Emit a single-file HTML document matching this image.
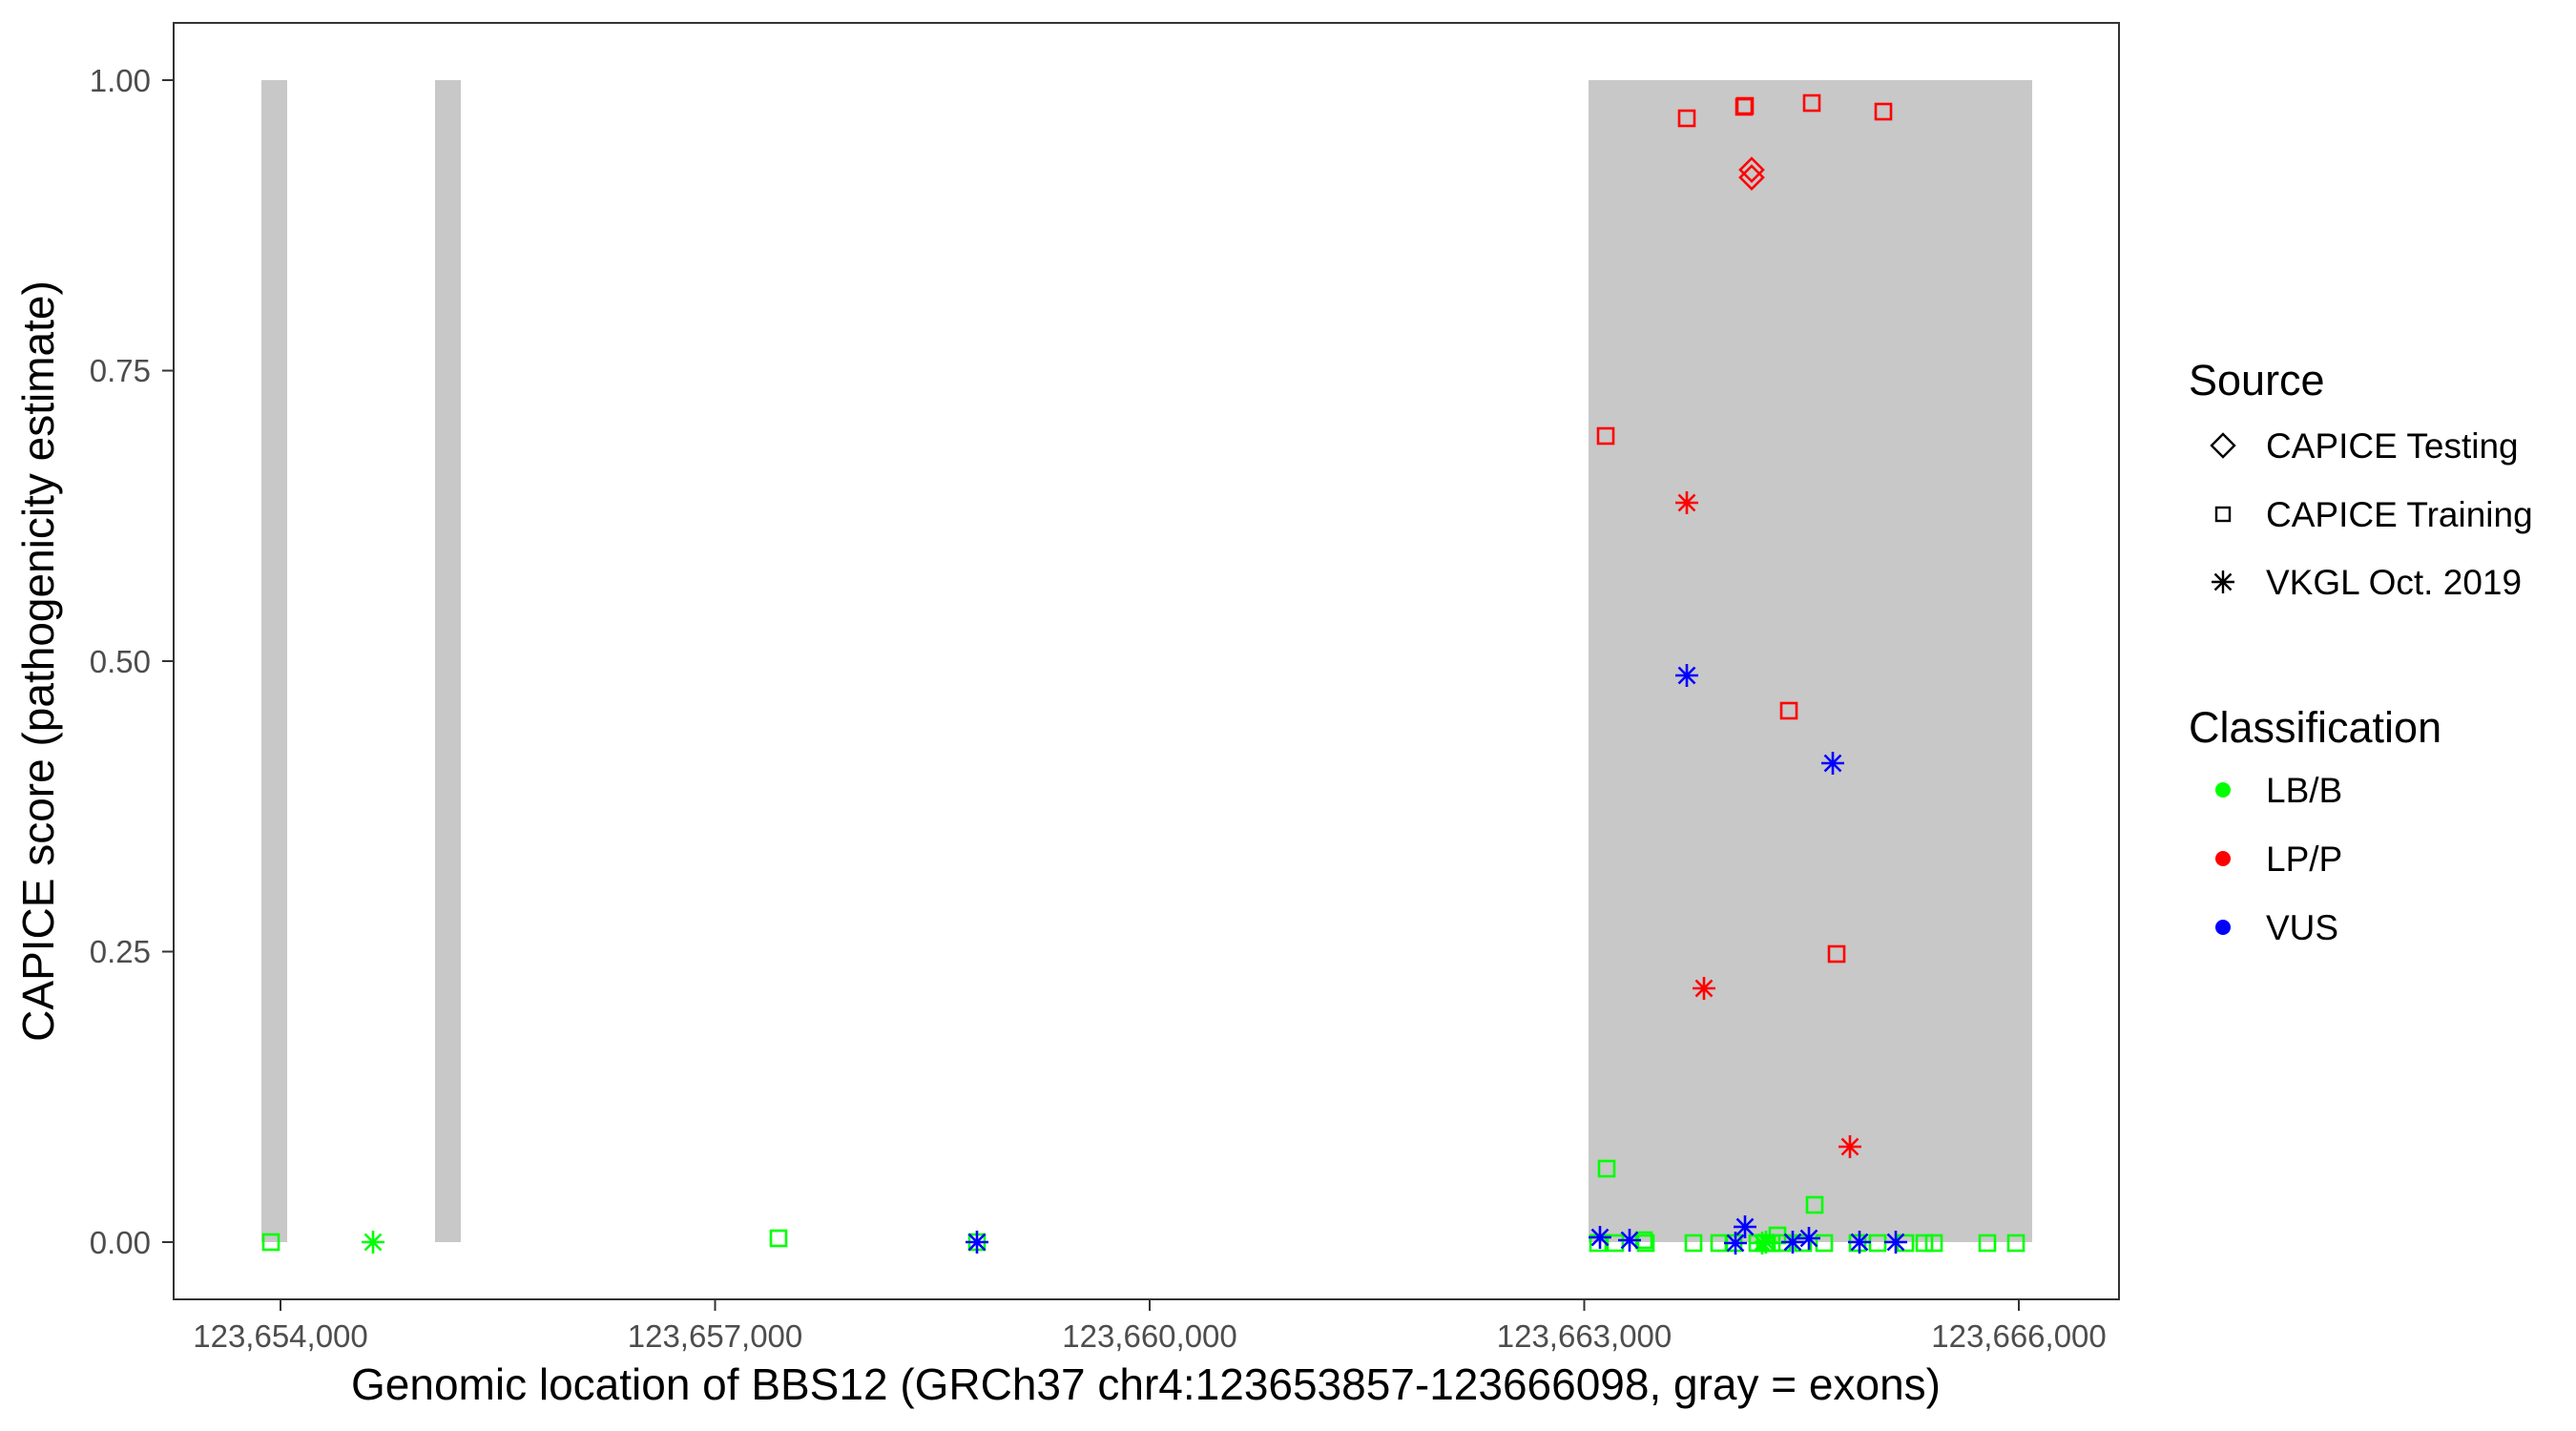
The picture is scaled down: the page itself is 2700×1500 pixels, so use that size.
<!DOCTYPE html>
<html><head><meta charset="utf-8"><style>body{margin:0;background:#fff}svg{display:block}text{font-family:"Liberation Sans",sans-serif}</style></head><body>
<svg width="2700" height="1500" xmlns="http://www.w3.org/2000/svg">
<defs>
<g id="sq"><rect x="-8" y="-8" width="16" height="16" fill="none" stroke-width="2.6"/></g>
<g id="as"><path d="M-12 0H12M0 -12V12M-8.5 -8.5L8.5 8.5M-8.5 8.5L8.5 -8.5" fill="none" stroke-width="2.6"/></g>
<g id="di"><path d="M0 -12L12 0L0 12L-12 0Z" fill="none" stroke-width="2.6"/></g>
</defs>
<rect x="274" y="84" width="27" height="1218" fill="#c8c8c8"/>
<rect x="456" y="84" width="27" height="1218" fill="#c8c8c8"/>
<rect x="1665" y="84" width="465" height="1218" fill="#c8c8c8"/>
<g stroke="#00ff00">
<use href="#sq" x="284" y="1302"/><use href="#as" x="391" y="1302"/>
<use href="#sq" x="816" y="1298"/><use href="#sq" x="1024" y="1302"/>
<use href="#sq" x="1684" y="1225"/><use href="#sq" x="1902" y="1263"/>
<use href="#sq" x="1675" y="1303"/><use href="#sq" x="1693" y="1303"/><use href="#sq" x="1723" y="1300"/><use href="#sq" x="1725" y="1303"/><use href="#sq" x="1775" y="1303"/><use href="#sq" x="1802" y="1303"/><use href="#sq" x="1817" y="1303"/><use href="#sq" x="1842" y="1303"/><use href="#sq" x="1850" y="1303"/><use href="#sq" x="1857" y="1303"/><use href="#sq" x="1863" y="1295"/><use href="#sq" x="1868" y="1303"/><use href="#sq" x="1890" y="1303"/><use href="#sq" x="1912" y="1303"/><use href="#sq" x="1947" y="1303"/><use href="#sq" x="1968" y="1303"/><use href="#sq" x="1997" y="1303"/><use href="#sq" x="2017" y="1303"/><use href="#sq" x="2027" y="1303"/><use href="#sq" x="2083" y="1303"/><use href="#sq" x="2113" y="1303"/>
<use href="#as" x="1847" y="1303"/><use href="#as" x="1851" y="1302"/>
</g>
<g stroke="#ff0000">
<use href="#sq" x="1768" y="124"/><use href="#sq" x="1829" y="111"/><use href="#sq" x="1828" y="112"/><use href="#sq" x="1899" y="108"/><use href="#sq" x="1974" y="117"/><use href="#sq" x="1683" y="457"/><use href="#sq" x="1875" y="745"/><use href="#sq" x="1925" y="1000"/>
<use href="#di" x="1836" y="178"/><use href="#di" x="1836" y="186"/>
<use href="#as" x="1768" y="527"/><use href="#as" x="1786" y="1036"/><use href="#as" x="1939" y="1202"/>
</g>
<g stroke="#0000ff">
<use href="#as" x="1024" y="1302"/>
<use href="#as" x="1768" y="708"/><use href="#as" x="1921" y="800"/>
<use href="#as" x="1677" y="1297"/><use href="#as" x="1708" y="1300"/><use href="#as" x="1829" y="1286"/><use href="#as" x="1819" y="1303"/><use href="#as" x="1879" y="1302"/><use href="#as" x="1896" y="1298"/><use href="#as" x="1949" y="1302"/><use href="#as" x="1987" y="1302"/>
</g>
<rect x="182" y="24" width="2039" height="1338" fill="none" stroke="#333" stroke-width="2"/>
<g stroke="#333" stroke-width="2">
<path d="M170 84H182M170 388.5H182M170 693H182M170 997.5H182M170 1302H182"/>
<path d="M294 1362V1374M749.5 1362V1374M1205 1362V1374M1660.5 1362V1374M2116 1362V1374"/>
</g>
<g fill="#4d4d4d" font-size="33" text-anchor="end">
<text x="158" y="96">1.00</text><text x="158" y="400">0.75</text><text x="158" y="705">0.50</text><text x="158" y="1009">0.25</text><text x="158" y="1314">0.00</text>
</g>
<g fill="#4d4d4d" font-size="33" text-anchor="middle">
<text x="294" y="1412">123,654,000</text><text x="749.5" y="1412">123,657,000</text><text x="1205" y="1412">123,660,000</text><text x="1660.5" y="1412">123,663,000</text><text x="2116" y="1412">123,666,000</text>
</g>
<text x="1201" y="1467" font-size="46" text-anchor="middle">Genomic location of BBS12 (GRCh37 chr4:123653857-123666098, gray = exons)</text>
<text transform="translate(56,693) rotate(-90)" font-size="46" text-anchor="middle">CAPICE score (pathogenicity estimate)</text>
<text x="2294" y="414" font-size="45">Source</text>
<path d="M2330 455L2342 467L2330 479L2318 467Z" fill="none" stroke="#000" stroke-width="2.4"/>
<rect x="2323" y="532" width="14" height="14" fill="none" stroke="#000" stroke-width="2.4"/>
<path d="M2318 610H2342M2330 598V622M2321.5 601.5L2338.5 618.5M2321.5 618.5L2338.5 601.5" stroke="#000" stroke-width="2.4"/>
<g font-size="37"><text x="2375" y="480">CAPICE Testing</text><text x="2375" y="552">CAPICE Training</text><text x="2375" y="623">VKGL Oct. 2019</text></g>
<text x="2294" y="778" font-size="45">Classification</text>
<circle cx="2330" cy="828" r="8" fill="#00ff00"/><circle cx="2330" cy="900" r="8" fill="#ff0000"/><circle cx="2330" cy="972" r="8" fill="#0000ff"/>
<g font-size="37"><text x="2375" y="841">LB/B</text><text x="2375" y="913">LP/P</text><text x="2375" y="985">VUS</text></g>
</svg>
</body></html>
